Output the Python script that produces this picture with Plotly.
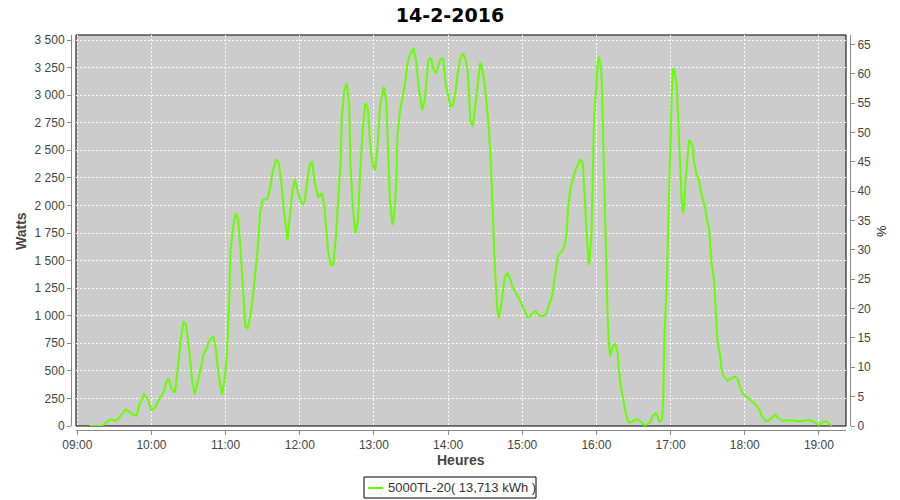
import plotly.graph_objects as go

DATE = "2016-02-14"
title_text = "14-2-2016"
series_name = "5000TL-20( 13,713 kWh )"

times = [
    "09:10","09:20","09:25","09:27","09:31","09:34","09:39","09:45","09:48","09:50","09:54","09:57",
    "10:00","10:03","10:06","10:10","10:12","10:14","10:16","10:19","10:21","10:24","10:26","10:28","10:31","10:33","10:35","10:37","10:40","10:42","10:44","10:47","10:50","10:52","10:54","10:57","10:59",
    "11:01","11:03","11:04","11:06","11:08","11:10","11:12","11:14","11:16","11:18","11:21","11:23","11:26","11:28","11:30","11:34","11:36","11:38","11:41","11:43","11:45","11:47","11:50","11:51","11:54","11:56","11:59",
    "12:02","12:04","12:06","12:08","12:10","12:12","12:15","12:18","12:20","12:23","12:25","12:27","12:29","12:31","12:33","12:34","12:36","12:38","12:40","12:41","12:43","12:45","12:47","12:49","12:51","12:53","12:55","12:57","12:59",
    "13:01","13:03","13:05","13:08","13:10","13:12","13:13","13:15","13:16","13:18","13:19","13:21","13:23","13:25","13:27","13:29","13:32","13:34","13:36","13:38","13:39","13:41","13:43","13:44","13:46","13:48","13:50","13:52","13:54","13:56","13:58",
    "14:00","14:02","14:04","14:06","14:08","14:10","14:12","14:14","14:16","14:17","14:18","14:20","14:22","14:24","14:26","14:27","14:29","14:31","14:33","14:35","14:36","14:37","14:38","14:39","14:40","14:41","14:43","14:45","14:46","14:48","14:50","14:52","14:55","14:58",
    "15:01","15:04","15:06","15:09","15:11","15:13","15:16","15:19","15:21","15:24","15:26","15:28","15:29","15:32","15:34","15:36","15:37","15:39","15:41","15:43","15:45","15:47","15:49","15:50","15:51","15:52","15:53","15:54","15:56","15:57","15:58",
    "16:00","16:01","16:02","16:04","16:05","16:06","16:07","16:08","16:09","16:10","16:11","16:13","16:15","16:17","16:18","16:20","16:22","16:24","16:26","16:28","16:31","16:33","16:36","16:39","16:41","16:44","16:45","16:48","16:49","16:51","16:53","16:54","16:55","16:57","16:58","16:59",
    "17:00","17:01","17:02","17:03","17:05","17:06","17:07","17:08","17:09","17:10","17:11","17:12","17:14","17:15","17:16","17:18","17:19","17:21","17:23","17:24","17:26","17:28","17:29","17:31","17:32","17:33","17:35","17:36","17:37","17:38","17:40","17:41","17:43","17:46","17:49","17:52","17:54","17:56","17:58",
    "18:01","18:04","18:06","18:09","18:12","18:14","18:17","18:20","18:23","18:25","18:27","18:31","18:36","18:41","18:47","18:52","18:56",
    "19:00","19:03","19:06","19:08","19:10",
]

watts = [
    0,0,45,60,48,75,150,105,94,190,287,245,
    145,166,236,311,402,432,341,302,493,810,946,916,644,402,287,372,523,644,689,780,810,704,493,287,402,
    644,1158,1581,1792,1928,1883,1611,1248,901,886,1067,1279,1611,1943,2049,2064,2155,2306,2418,2382,2215,1974,1687,1792,2125,2237,2095,
    2004,2034,2215,2367,2397,2215,2070,2110,1974,1581,1460,1460,1680,2004,2397,2790,3047,3107,2911,2367,1974,1747,1853,2336,2699,2926,2880,2548,2367,
    2321,2548,2911,3077,2941,2397,2034,1823,1883,2155,2639,2850,2971,3092,3273,3364,3424,3319,3092,2956,2865,2941,3153,3319,3340,3243,3198,3258,3328,3328,3107,
    3001,2896,2911,3032,3213,3334,3379,3330,3213,3001,2760,2714,2911,3153,3298,3258,3153,2941,2699,2276,1883,1671,1399,1158,1037,976,1097,1279,1354,1384,1339,1263,1203,1143,
    1067,991,991,1031,1043,1006,991,1013,1082,1173,1324,1460,1551,1581,1626,1762,1974,2155,2246,2321,2367,2421,2382,2215,1974,1762,1551,1460,1732,2185,2790,
    3092,3304,3349,3213,2820,2336,1853,1399,1006,765,629,719,750,674,523,342,221,100,33,33,54,63,39,9,15,39,85,115,100,39,54,221,825,1339,1792,2276,
    2669,3032,3243,3228,3092,2790,2518,2246,2034,1928,2004,2215,2427,2593,2578,2533,2397,2276,2231,2155,2064,1974,1898,1792,1671,1490,1339,1127,946,765,644,523,450,411,432,447,432,372,296,
    266,245,221,191,145,85,45,54,85,100,70,45,54,45,45,54,39,
    9,33,45,24,0,
]
assert len(times) == len(watts)

hour_ticks = ["09:00","10:00","11:00","12:00","13:00","14:00","15:00","16:00","17:00","18:00","19:00"]
watt_ticks = [0,250,500,750,1000,1250,1500,1750,2000,2250,2500,2750,3000,3250,3500]
pct_ticks = [0,5,10,15,20,25,30,35,40,45,50,55,60,65]

x_vals = [f"{DATE} {t}" for t in times]

# Figure fills the whole 900x500 page (body margin removed in post_script)
W, H = 900, 500
ML, MR, MT, MB = 71, 50, 35, 70
PW = W - ML - MR
PH = H - MT - MB
def px(x):   # page x -> paper
    return (x - ML) / PW
def py(y):   # page y -> paper
    return (H - MB - y) / PH

TICK_FONT = dict(family="Liberation Sans, Arial, sans-serif", size=12, color="#444444")
AXIS_GRAY = "#888888"

fig = go.Figure()
fig.add_trace(go.Scatter(
    x=x_vals, y=watts, mode="lines", name=series_name,
    line=dict(color="#66ff00", width=2), showlegend=False,
    xaxis="x", yaxis="y",
))
# carrier for the right-hand percentage axis
fig.add_trace(go.Scatter(
    x=[x_vals[0]], y=[0], mode="markers", marker=dict(opacity=0),
    showlegend=False, hoverinfo="skip", xaxis="x", yaxis="y2",
))

fig.update_layout(
    width=W, height=H,
    margin=dict(l=ML, r=MR, t=MT, b=MB, pad=0),
    paper_bgcolor="white",
    plot_bgcolor="#cccccc",
    separators=", ",
    showlegend=False,
    title=dict(
        text=f"<b>{title_text}</b>", x=450 / W, xref="container", xanchor="center",
        y=1 - 15 / H, yref="container", yanchor="middle",
        font=dict(family="DejaVu Sans, sans-serif", size=19, color="#000000"),
    ),
    xaxis=dict(
        type="date",
        domain=[px(76), px(846)],
        anchor="free", position=0,
        range=[f"{DATE} 08:58:57", f"{DATE} 19:21:54"],
        tickvals=[f"{DATE} {t}" for t in hour_ticks],
        ticktext=hour_ticks,
        showgrid=True, gridcolor="white", griddash="2px,2px", gridwidth=1,
        showline=True, linecolor=AXIS_GRAY, linewidth=1,
        ticks="outside", ticklen=4, tickcolor=AXIS_GRAY,
        tickfont=TICK_FONT, zeroline=False,
    ),
    yaxis=dict(
        domain=[py(426), 1],
        anchor="free", position=0,
        range=[0, 391 * 3500 / 386],
        tickvals=watt_ticks,
        tickformat=",d",
        showgrid=True, gridcolor="white", griddash="2px,2px", gridwidth=1,
        showline=True, linecolor=AXIS_GRAY, linewidth=1,
        ticks="outside", ticklen=4, tickcolor=AXIS_GRAY,
        tickfont=TICK_FONT, zeroline=False,
    ),
    yaxis2=dict(
        domain=[py(426), 1],
        overlaying="y", side="right",
        anchor="free", position=1,
        range=[0, 391 / (381.7 / 65)],
        tickvals=pct_ticks,
        showgrid=False,
        showline=True, linecolor=AXIS_GRAY, linewidth=1,
        ticks="outside", ticklen=4, tickcolor=AXIS_GRAY,
        tickfont=TICK_FONT, zeroline=False,
    ),
)

# plot outline
fig.add_shape(type="rect", xref="x domain", yref="y domain", x0=0, x1=1, y0=0, y1=1,
              line=dict(color="black", width=1), layer="below")

# axis titles
AX_TITLE_FONT = dict(family="Liberation Sans, Arial, sans-serif", size=14, color="#444444")
fig.add_annotation(text="<b>Watts</b>", xref="paper", yref="paper", x=px(21), y=py(231),
                   textangle=-90, showarrow=False, font=AX_TITLE_FONT,
                   xanchor="center", yanchor="middle")
fig.add_annotation(text="<b>Heures</b>", xref="paper", yref="paper", x=px(461), y=py(460),
                   showarrow=False, font=AX_TITLE_FONT, xanchor="center", yanchor="middle")
fig.add_annotation(text="%", xref="paper", yref="paper", x=px(881), y=py(231),
                   textangle=-90, showarrow=False,
                   font=dict(family="Liberation Sans, Arial, sans-serif", size=13, color="#222222"),
                   xanchor="center", yanchor="middle")

# legend box (drawn manually to match the compact Java-style legend)
fig.add_shape(type="rect", xref="paper", yref="paper", x0=px(364), x1=px(536), y0=py(477), y1=py(498),
              line=dict(color="black", width=1), fillcolor="white", layer="above")
fig.add_shape(type="line", xref="paper", yref="paper", x0=px(368), x1=px(383), y0=py(488), y1=py(488),
              line=dict(color="#66ff00", width=2), layer="above")
fig.add_annotation(text=series_name, xref="paper", yref="paper", x=px(386), y=py(488),
                   showarrow=False, xanchor="left", yanchor="middle",
                   font=dict(family="Liberation Sans, Arial, sans-serif", size=13, color="#333333"))

fig.write_html("out.html", config={"displayModeBar": False},
               post_script="document.body.style.margin='0px';")
